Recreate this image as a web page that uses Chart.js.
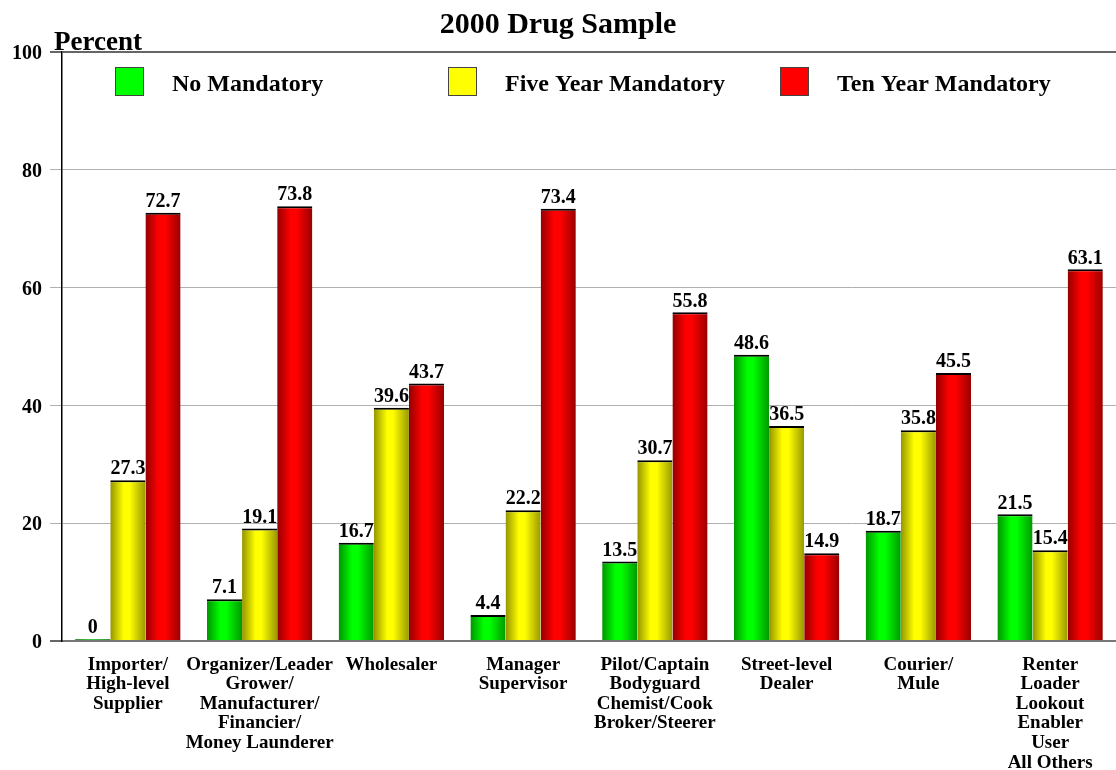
<!DOCTYPE html>
<html>
<head>
<meta charset="utf-8">
<script src="https://cdn.jsdelivr.net/npm/chart.js@4.4.1/dist/chart.umd.min.js"></script>
<style>
    html, body { margin: 0; padding: 0; background: #fff; }
    #wrap { width: 1116px; height: 770px; }
</style>
</head>
<body>
<div id="wrap"><canvas id="chart" width="1116" height="770"></canvas></div>
<script>
const categories = [
    ['Importer/', 'High-level', 'Supplier'],
    ['Organizer/Leader', 'Grower/', 'Manufacturer/', 'Financier/', 'Money Launderer'],
    ['Wholesaler'],
    ['Manager', 'Supervisor'],
    ['Pilot/Captain', 'Bodyguard', 'Chemist/Cook', 'Broker/Steerer'],
    ['Street-level', 'Dealer'],
    ['Courier/', 'Mule'],
    ['Renter', 'Loader', 'Lookout', 'Enabler', 'User', 'All Others']
];
const seriesNames = ['No Mandatory', 'Five Year Mandatory', 'Ten Year Mandatory'];
const noMandatory = [0, 7.1, 16.7, 4.4, 13.5, 48.6, 18.7, 21.5];
const fiveYear = [27.3, 19.1, 39.6, 22.2, 30.7, 36.5, 35.8, 15.4];
const tenYear = [72.7, 73.8, 43.7, 73.4, 55.8, 14.9, 45.5, 63.1];
const yTicks = [0, 20, 40, 60, 80, 100];

const baseColors = [[0, 255, 0], [255, 255, 0], [255, 0, 0]];
const SERIF = "'Liberation Serif', 'Times New Roman', serif";

function shade(rgb, f) {
    return 'rgb(' + rgb.map(v => Math.round(v * f)).join(',') + ')';
}

// cylinder look: dark edges, bright middle
function barGradient(c) {
    const rgb = baseColors[c.datasetIndex];
    const chart = c.chart;
    const xs = chart.scales && chart.scales.x;
    if (!chart.chartArea || !xs) return shade(rgb, 1);
    const catW = xs.width / categories.length;
    const barW = catW * 0.8 / 3;
    const left = xs.getPixelForValue(c.dataIndex) - catW * 0.4 + c.datasetIndex * barW;
    const g = chart.ctx.createLinearGradient(left, 0, left + barW, 0);
    g.addColorStop(0, shade(rgb, 0.58));
    g.addColorStop(0.38, shade(rgb, 1));
    g.addColorStop(0.55, shade(rgb, 1));
    g.addColorStop(1, shade(rgb, 0.6));
    return g;
}

const overlay = {
    id: 'overlay',
    afterDatasetsDraw(chart) {
        const ctx = chart.ctx;
        ctx.save();
        ctx.font = 'bold 20px ' + SERIF;
        ctx.fillStyle = '#000';
        ctx.textAlign = 'center';
        ctx.textBaseline = 'bottom';
        chart.data.datasets.forEach((ds, i) => {
            chart.getDatasetMeta(i).data.forEach((bar, j) => {
                ctx.fillText(String(ds.data[j]), bar.x, bar.y - 1);
            });
        });
        ctx.restore();
    },
    afterDraw(chart) {
        const ctx = chart.ctx;
        const area = chart.chartArea;
        ctx.save();
        // axis caption
        ctx.font = 'bold 27px ' + SERIF;
        ctx.fillStyle = '#000';
        ctx.textAlign = 'left';
        ctx.textBaseline = 'alphabetic';
        ctx.fillText('Percent', 54, area.top - 2);

        // legend inside the plot
        const offsets = [53, 386, 718];
        ctx.font = 'bold 24px ' + SERIF;
        ctx.textBaseline = 'middle';
        seriesNames.forEach((name, i) => {
            const x = area.left + offsets[i];
            const y = area.top + 15;
            ctx.fillStyle = shade(baseColors[i], 1);
            ctx.fillRect(x, y, 28, 28);
            ctx.strokeStyle = '#444';
            ctx.lineWidth = 1;
            ctx.strokeRect(x + 0.5, y + 0.5, 28, 28);
            ctx.fillStyle = '#000';
            ctx.fillText(name, x + 57, y + 18);
        });
        ctx.restore();
    }
};

const datasets = [noMandatory, fiveYear, tenYear].map((vals, i) => ({
    label: seriesNames[i],
    data: vals,
    backgroundColor: barGradient,
    borderColor: '#000',
    borderWidth: { top: 2, right: 0, bottom: 0, left: 0 },
    borderSkipped: 'bottom',
    minBarLength: 2,
    barPercentage: 1.0,
    categoryPercentage: 0.8
}));

new Chart(document.getElementById('chart'), {
    type: 'bar',
    data: { labels: categories, datasets: datasets },
    options: {
        responsive: false,
        animation: false,
        layout: { padding: { left: 0, right: 0, top: 0, bottom: 0 } },
        plugins: {
            legend: { display: false },
            tooltip: { enabled: false },
            title: {
                display: true,
                text: '2000 Drug Sample',
                color: '#000',
                font: { family: SERIF, size: 30, weight: 'bold', lineHeight: 1.1 },
                padding: { top: 9, bottom: 10 }
            }
        },
        scales: {
            x: {
                grid: { display: false },
                border: { display: true, color: '#777', width: 2 },
                ticks: {
                    color: '#000',
                    padding: 6,
                    maxRotation: 0,
                    autoSkip: false,
                    font: { family: SERIF, size: 19, weight: 'bold', lineHeight: 1.03 }
                },
                afterFit(scale) { scale.height = 129; }
            },
            y: {
                min: 0,
                max: 100,
                afterBuildTicks(scale) { scale.ticks = yTicks.map(v => ({ value: v })); },
                grid: {
                    color: c => (c.tick && (c.tick.value === 0 || c.tick.value === 100)) ? '#666' : '#b0b0b0',
                    lineWidth: c => (c.tick && (c.tick.value === 0 || c.tick.value === 100)) ? 2 : 1,
                    tickLength: 12,
                    drawTicks: true
                },
                border: { display: true, color: '#000', width: 1.5 },
                ticks: {
                    color: '#000',
                    padding: 8,
                    labelOffset: 2,
                    font: { family: SERIF, size: 20, weight: 'bold' }
                },
                afterFit(scale) { scale.width = 62; }
            }
        }
    },
    plugins: [overlay]
});
</script>
</body>
</html>
